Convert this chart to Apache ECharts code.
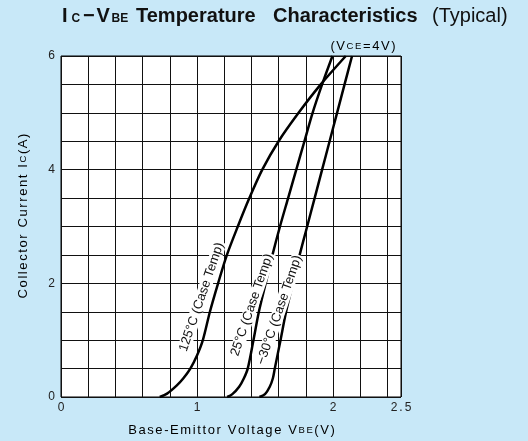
<!DOCTYPE html>
<html><head><meta charset="utf-8">
<script src="https://cdn.jsdelivr.net/npm/echarts@6/dist/echarts.min.js"></script>
<style>html,body{margin:0;padding:0;background:#c8e8f8;}#c{width:528px;height:441px;}</style>
</head><body><div id="c"></div>
<script>
// ---- data ----
const icLevels = [0, 0.05, 0.18, 0.33, 0.5, 1.0, 1.5, 2.0, 2.5, 3.0, 3.5, 4.0, 4.5, 5.0, 5.5, 6.0];
const ic125 = [0, 0.06, 0.2, 0.33, 0.5, 0.73, 1.0, 1.5, 2.0, 2.5, 3.0, 3.5, 4.0, 4.5, 5.0, 5.5, 6.0];
const vbe125 = [0.726, 0.78, 0.85, 0.90, 0.951, 1.0, 1.043, 1.095, 1.155, 1.22, 1.30, 1.385, 1.48, 1.60, 1.747, 1.91, 2.094];
const vbe25 = [1.222, 1.26, 1.31, 1.345, 1.373, 1.415, 1.455, 1.505, 1.555, 1.61, 1.67, 1.73, 1.79, 1.85, 1.92, 1.996];
const vbeM30 = [1.459, 1.50, 1.535, 1.558, 1.572, 1.614, 1.655, 1.705, 1.755, 1.81, 1.865, 1.92, 1.975, 2.03, 2.085, 2.14];
const seriesNames = ['125°C (Case Temp)', '25°C (Case Temp)', '−30°C (Case Temp)'];
const labelVbe = [1.034, 1.404, 1.606];
const labelIc = [1.76, 1.62, 1.53];
const xTickValues = [0, 1, 2, 2.5];
const xTickLabels = ['0', '1', '2', '2.5'];
const yTickValues = [0, 2, 4, 6];
const yTickLabels = ['0', '2', '4', '6'];

const FONT = 'Liberation Sans, Arial, sans-serif';
function spaced(s, st) { return Array.from(s).map(ch => '{' + st + '|' + ch + '}').join(''); }
function pairs(xs, ys) { return xs.map((x, i) => [x, ys[i]]); }

const chart = echarts.init(document.getElementById('c'), null, {renderer: 'canvas'});
const curveData = [pairs(vbe125, ic125), pairs(vbe25, icLevels), pairs(vbeM30, icLevels)];

const tickRich = {t: {fontSize: 12, fontFamily: FONT, color: '#222', padding: [0, 1, 0, 1]}};
const nameRich = {
  n: {fontSize: 13, fontFamily: FONT, color: '#222', padding: [0, 0.8, 0, 0.8], verticalAlign: 'bottom'},
  s: {fontSize: 9.5, fontFamily: FONT, color: '#222', padding: [0, 0.8, 1, 0.8], verticalAlign: 'bottom'}
};

const option = {
  backgroundColor: '#c8e8f8',
  animation: false,
  grid: {left: 61, right: 127, top: 56, bottom: 44, show: true, backgroundColor: '#ffffff', borderColor: '#000', borderWidth: 1},
  xAxis: [
    {type: 'value', min: 0, max: 2.5, interval: 0.2,
     axisLine: {show: false}, axisTick: {show: false}, axisLabel: {show: false},
     splitLine: {show: true, lineStyle: {color: '#111', width: 1}}},
    {type: 'value', min: 0, max: 2.5, interval: 0.5, position: 'bottom',
     axisLine: {show: false}, axisTick: {show: false}, splitLine: {show: false},
     axisLabel: {show: true, margin: 5, showMinLabel: true, showMaxLabel: true, rich: tickRich,
       formatter: v => { const i = xTickValues.findIndex(t => Math.abs(t - v) < 1e-6); return i >= 0 ? spaced(xTickLabels[i], 't') : ''; }}}
  ],
  yAxis: [
    {type: 'value', min: 0, max: 6, interval: 0.5,
     axisLine: {show: false}, axisTick: {show: false},
     splitLine: {show: true, lineStyle: {color: '#111', width: 1}},
     axisLabel: {show: true, margin: 5, showMinLabel: true, showMaxLabel: true, rich: tickRich,
       formatter: v => { const i = yTickValues.findIndex(t => Math.abs(t - v) < 1e-6); return i >= 0 ? spaced(yTickLabels[i], 't') : ''; }}}
  ],
  series: curveData.map((d, k) => ({
    name: seriesNames[k], type: 'line', xAxisIndex: 0, yAxisIndex: 0, data: d,
    smooth: 0.3, symbol: 'none', clip: true,
    lineStyle: {color: '#000', width: 2.5}
  }))
};
chart.setOption(option);

// title pieces (text, left x, font size, weight)
const titleParts = [['I', 62, 20, 'bold'], ['C', 71.5, 12, 'bold'], ['−', 83, 20, 'bold'], ['V', 96.5, 20, 'bold'],
  ['BE', 111.5, 12, 'bold'], ['Temperature', 136, 20, 'bold'], ['Characteristics', 273, 20, 'bold'], ['(Typical)', 432, 20, 'normal']];
const titleBaseline = 23.5;

const graphics = titleParts.map(p => ({
  type: 'text', x: p[1], y: titleBaseline - 0.36 * p[2],
  style: {text: p[0], fontSize: p[2], fontWeight: p[3], fontFamily: FONT, fill: '#111', align: 'left', verticalAlign: 'middle'}
}));

// condition note
graphics.push({type: 'text', x: 363, y: 46,
  style: {text: spaced('(V', 'n') + spaced('CE', 's') + spaced('=4V)', 'n'), rich: nameRich, align: 'center', verticalAlign: 'middle'}});
// x axis name
graphics.push({type: 'text', x: 231.5, y: 430,
  style: {text: spaced('Base-Emittor Voltage V', 'n') + spaced('BE', 's') + spaced('(V)', 'n'), rich: nameRich, align: 'center', verticalAlign: 'middle'}});
// y axis name
graphics.push({type: 'text', x: 23, y: 216, rotation: Math.PI / 2,
  style: {text: spaced('Collector Current I', 'n') + spaced('C', 's') + spaced('(A)', 'n'), rich: nameRich, align: 'center', verticalAlign: 'middle'}});

// curve labels positioned in data space
seriesNames.forEach((name, k) => {
  const p = chart.convertToPixel({xAxisIndex: 0, yAxisIndex: 0}, [labelVbe[k], labelIc[k]]);
  graphics.push({type: 'text', x: p[0], y: p[1], rotation: 71 * Math.PI / 180, z: 10,
    style: {text: name, fontSize: 13, fontFamily: FONT, fill: '#111', align: 'center', verticalAlign: 'middle',
      backgroundColor: '#fff', padding: [0, 1]}});
});
chart.setOption({graphic: graphics});
</script></body></html>
